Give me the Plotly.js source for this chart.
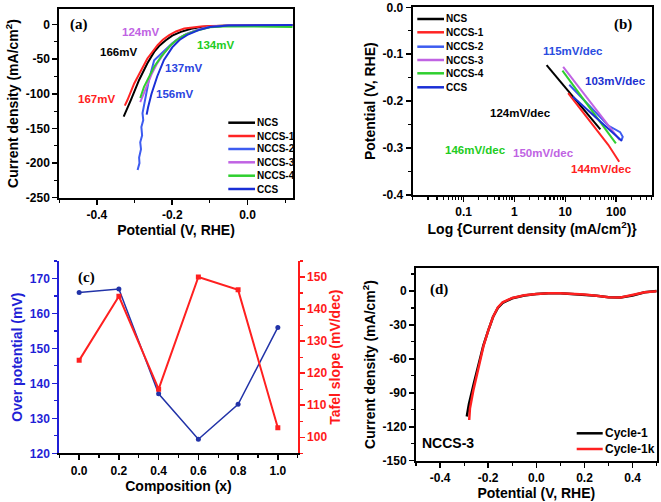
<!DOCTYPE html>
<html><head><meta charset="utf-8">
<script src="https://cdn.plot.ly/plotly-3.0.1.min.js"></script>
<style>html,body{margin:0;padding:0;background:#fff}#chart{width:661px;height:502px}</style>
</head><body><div id="chart"></div>
<script>
// ---------- Panel (a): LSV polarisation curves ----------
const ncsX   = [0.12, 0.0, -0.05, -0.1, -0.124, -0.15, -0.177, -0.2, -0.217, -0.235, -0.248, -0.266, -0.288, -0.31, -0.329];
const ncsY   = [-0.5, -0.8, -1.5, -2.5, -3.5, -6, -10.6, -16, -22.6, -31, -39.5, -56, -80, -109, -133];
const nccs1X = [0.12, 0.0, -0.05, -0.1, -0.124, -0.15, -0.168, -0.19, -0.208, -0.225, -0.239, -0.266, -0.275, -0.288, -0.301, -0.319, -0.326];
const nccs1Y = [-0.5, -0.8, -1.2, -2, -3, -4.5, -5.8, -10, -15.4, -22, -29.8, -49, -58.7, -73, -85, -109, -117];
const nccs2X = [0.12, 0.0, -0.05, -0.1, -0.13, -0.16, -0.18, -0.2, -0.22, -0.248, -0.262, -0.275, -0.279, -0.277, -0.282, -0.28, -0.285, -0.283, -0.288, -0.287, -0.292];
const nccs2Y = [-1, -1, -1.5, -3.5, -7, -13, -19, -27, -37, -51.5, -80, -114, -128, -138, -148, -160, -170, -180, -192, -200, -210];
const nccs3X = [0.12, 0.0, -0.05, -0.1, -0.13, -0.16, -0.18, -0.2, -0.22, -0.24, -0.255, -0.27, -0.285];
const nccs3Y = [-1, -1, -1.5, -3.5, -7, -13, -19, -28, -40, -56, -72, -92, -112];
const nccs4X = [0.12, 0.05, 0.0, -0.05, -0.1, -0.115, -0.14, -0.168, -0.19, -0.204, -0.23, -0.248, -0.262, -0.275, -0.285];
const nccs4Y = [-3.5, -3, -2.5, -2.5, -4, -5.8, -9.5, -15.4, -23, -29.8, -46.7, -61, -75, -90, -106];
const ccsX   = [0.12, 0.0, -0.05, -0.1, -0.13, -0.16, -0.18, -0.2, -0.222, -0.24, -0.255, -0.264, -0.268];
const ccsY   = [-0.5, -0.8, -1.5, -3.5, -8, -15, -22, -33, -51, -75, -100, -119, -130];

// ---------- Panel (b): Tafel plots ----------
const tNcsX   = [4.3, 10, 20, 49];
const tNcsY   = [-0.123, -0.171, -0.210, -0.260];
const tNccs1X = [11.4, 20, 40, 70, 115];
const tNccs1Y = [-0.183, -0.217, -0.259, -0.293, -0.329];
const tNccs2X = [12, 30, 70, 120, 135, 128];
const tNccs2Y = [-0.165, -0.210, -0.252, -0.266, -0.276, -0.283];
const tNccs3X = [9.1, 20, 50, 118];
const tNccs3Y = [-0.127, -0.175, -0.230, -0.283];
const tNccs4X = [8.8, 20, 50, 99];
const tNccs4Y = [-0.135, -0.1875, -0.246, -0.290];
const tCcsX   = [14, 30, 60, 100, 130];
const tCcsY   = [-0.190, -0.222, -0.252, -0.272, -0.285];

// ---------- Panel (c): composition dependence ----------
const composition   = [0.0, 0.2, 0.4, 0.6, 0.8, 1.0];
const overpotential = [166, 167, 137, 124, 134, 156];
const tafelSlope    = [124, 144, 115, 150, 146, 103];

// ---------- Panel (d): stability ----------
const cyc1X  = [-0.289, -0.28, -0.26, -0.24, -0.22, -0.2, -0.18, -0.16, -0.14, -0.1, -0.05, 0.0, 0.05, 0.1, 0.15, 0.2, 0.25, 0.3, 0.35, 0.4, 0.45, 0.5];
const cyc1Y  = [-111, -100, -82, -64, -48, -35, -23, -15, -10.5, -6.5, -4, -2.8, -2, -2, -2.7, -3.3, -4.3, -5.5, -5.8, -4, -1.2, 0];
const cyc1kX = [-0.279, -0.276, -0.262, -0.25, -0.235, -0.22, -0.2, -0.18, -0.16, -0.14, -0.1, -0.05, 0.0, 0.05, 0.1, 0.15, 0.2, 0.25, 0.3, 0.35, 0.4, 0.45, 0.5];
const cyc1kY = [-114, -104, -88, -76, -62, -49, -35, -23, -14.5, -10, -6.2, -3.8, -2.7, -2, -2, -2.5, -3.2, -4.3, -5.5, -5.8, -3.8, -1.2, -0.3];

// ---------- Tick labels ----------
const aXTicks = [-0.4, -0.2, 0.0];       const aXText = ['-0.4', '-0.2', '0.0'];
const aYTicks = [0, -50, -100, -150, -200, -250]; const aYText = ['0', '-50', '-100', '-150', '-200', '-250'];
const bXTicks = [0.1, 1, 10, 100];       const bXText = ['0.1', '1', '10', '100'];
const bYTicks = [0, -0.1, -0.2, -0.3, -0.4]; const bYText = ['0.0', '-0.1', '-0.2', '-0.3', '-0.4'];
const cXTicks = [0, 0.2, 0.4, 0.6, 0.8, 1.0]; const cXText = ['0.0', '0.2', '0.4', '0.6', '0.8', '1.0'];
const dXTicks = [-0.4, -0.2, 0.0, 0.2, 0.4]; const dXText = ['-0.4', '-0.2', '0.0', '0.2', '0.4'];
const dYTicks = [0, -30, -60, -90, -120, -150]; const dYText = ['0', '-30', '-60', '-90', '-120', '-150'];

// ---------- Series names and text labels ----------
const seriesNames = ['NCS', 'NCCS-1', 'NCCS-2', 'NCCS-3', 'NCCS-4', 'CCS'];
const cycleNames  = ['Cycle-1', 'Cycle-1k'];
const aLabels = ['124mV', '166mV', '134mV', '137mV', '167mV', '156mV'];
const bLabels = ['115mV/dec', '103mV/dec', '124mV/dec', '146mV/dec', '150mV/dec', '144mV/dec'];

const C = {ncs:'#000000', n1:'#ff2424', n2:'#3d5cf0', n3:'#c063e3', n4:'#2fcf2f', ccs:'#1a2fd6'};
const seriesColors = [C.ncs, C.n1, C.n2, C.n3, C.n4, C.ccs];
const cycleColors = ['#000000', '#ff2020'];
const W = 661, H = 502;
const px = v => v / W, py = v => 1 - v / H;
const FONT = 'Liberation Sans, Arial, sans-serif';
const SERIF = 'Liberation Serif, Times New Roman, serif';

function line(x, y, name, color, xa, ya, w) {
  return {x, y, name, type:'scatter', mode:'lines', xaxis:xa, yaxis:ya,
          line:{color, width:w || 2}, showlegend:false};
}

const aX = [ncsX, nccs1X, nccs2X, nccs3X, nccs4X, ccsX];
const aY = [ncsY, nccs1Y, nccs2Y, nccs3Y, nccs4Y, ccsY];
const bX = [tNcsX, tNccs1X, tNccs2X, tNccs3X, tNccs4X, tCcsX];
const bY = [tNcsY, tNccs1Y, tNccs2Y, tNccs3Y, tNccs4Y, tCcsY];

const data = [];
seriesNames.forEach((n, i) => data.push(line(aX[i], aY[i], n, seriesColors[i], 'x', 'y')));
seriesNames.forEach((n, i) => data.push(line(bX[i], bY[i], n, seriesColors[i], 'x2', 'y2')));
data.push({x:composition, y:overpotential, type:'scatter', mode:'lines+markers', xaxis:'x3', yaxis:'y3', showlegend:false,
   line:{color:'#2233a8', width:1.5}, marker:{color:'#2233a8', size:5, symbol:'circle'}});
data.push({x:composition, y:tafelSlope, type:'scatter', mode:'lines+markers', xaxis:'x3', yaxis:'y4', showlegend:false,
   line:{color:'#ff2020', width:2}, marker:{color:'#ff2020', size:5, symbol:'square'}});
data.push(line(cyc1X, cyc1Y, cycleNames[0], cycleColors[0], 'x4', 'y5', 2.5));
data.push(line(cyc1kX, cyc1kY, cycleNames[1], cycleColors[1], 'x4', 'y5', 2.5));

const base = {showline:true, linewidth:2, linecolor:'#000', ticks:'outside', ticklen:5, tickwidth:1.5,
  tickcolor:'#000', showgrid:false, zeroline:false, tickmode:'array',
  tickfont:{family:FONT, size:12, color:'#000', weight:'bold'}};
const ttl = (text, color, standoff) => ({text, standoff: standoff, font:{family:FONT, size:14, color:color || '#000', weight:'bold'}});
const minor = (dtick, color) => ({ticks:'outside', ticklen:3, tickwidth:1.2, tickcolor:color || '#000', dtick:dtick, showgrid:false});

const layout = {
  width:W, height:H, autosize:false, margin:{l:0, r:0, t:0, b:0},
  paper_bgcolor:'#fff', plot_bgcolor:'#fff', showlegend:false,
  font:{family:FONT, size:12, color:'#000', weight:'bold'},
  xaxis:Object.assign({}, base, {domain:[px(59.3), px(292.7)], range:[-0.5, 0.12], anchor:'y', mirror:true,
    tickvals:aXTicks, ticktext:aXText, minor:minor(0.1), title:ttl('Potential (V, RHE)', '#000', 4)}),
  yaxis:Object.assign({}, base, {domain:[py(197.7), py(9.3)], range:[-250, 22], anchor:'x', mirror:true,
    tickvals:aYTicks, ticktext:aYText, minor:minor(25), title:ttl('Current density (mA/cm<sup>2</sup>)', '#000', 4)}),

  xaxis2:Object.assign({}, base, {type:'log', domain:[px(412.7), px(651.7)], range:[-2, 2.7], anchor:'y2', mirror:true,
    tickvals:bXTicks, ticktext:bXText, minor:minor('D1'), title:ttl('Log {Current density (mA/cm<sup>2</sup>)}', '#000', 4)}),
  yaxis2:Object.assign({}, base, {domain:[py(195), py(7.3)], range:[-0.4, 0], anchor:'x2', mirror:true,
    tickvals:bYTicks, ticktext:bYText, minor:minor(0.05), title:ttl('Potential (V, RHE)', '#000', 4)}),

  xaxis3:Object.assign({}, base, {domain:[px(59.3), px(297.7)], range:[-0.1, 1.1], anchor:'y3',
    tickvals:cXTicks, ticktext:cXText, minor:minor(0.1), title:ttl('Composition (x)', '#000', 4)}),
  yaxis3:Object.assign({}, base, {domain:[py(453.3), py(261)], range:[120, 175], anchor:'x3',
    linecolor:'#1f1fd6', tickcolor:'#1f1fd6', tickmode:'linear', tick0:120, dtick:10,
    tickfont:{family:FONT, size:12, color:'#1f1fd6', weight:'bold'},
    minor:minor(5, '#1f1fd6'), title:ttl('Over potential (mV)', '#1f1fd6', 4)}),
  yaxis4:Object.assign({}, base, {domain:[py(453.3), py(261)], range:[95, 155], anchor:'x3', overlaying:'y3', side:'right',
    linecolor:'#ff1a1a', tickcolor:'#ff1a1a', tickmode:'linear', tick0:100, dtick:10,
    tickfont:{family:FONT, size:12, color:'#ff1a1a', weight:'bold'},
    minor:minor(5, '#ff1a1a'), title:ttl('Tafel slope (mV/dec)', '#ff1a1a', 4)}),

  xaxis4:Object.assign({}, base, {domain:[px(416), px(656.7)], range:[-0.5, 0.5], anchor:'y5', mirror:true,
    tickvals:dXTicks, ticktext:dXText, minor:minor(0.1), title:ttl('Potential (V, RHE)', '#000', 4)}),
  yaxis5:Object.assign({}, base, {domain:[py(460.7), py(268.3)], range:[-150, 20], anchor:'x4', mirror:true,
    tickvals:dYTicks, ticktext:dYText, minor:minor(15), title:ttl('Current density (mA/cm<sup>2</sup>)', '#000', 4)}),

  annotations:[], shapes:[]
};

function ann(text, x, y, color, size, family, xanchor) {
  layout.annotations.push({text, x:px(x), y:py(y), xref:'paper', yref:'paper', showarrow:false,
    xanchor:xanchor || 'center', yanchor:'middle', borderpad:0,
    font:{family:family || FONT, size:size || 11.5, color:color || '#000', weight:'bold'}});
}
// Manual legends (sample line + name)
function legend(names, colors, x0, x1, ys, size, lw) {
  names.forEach((n, i) => {
    layout.shapes.push({type:'line', xref:'paper', yref:'paper', x0:px(x0), x1:px(x1), y0:py(ys[i]), y1:py(ys[i]),
      line:{color:colors[i], width:lw}});
    ann(n, x1 + 1, ys[i], '#000', size, FONT, 'left');
  });
}
legend(seriesNames, seriesColors, 228.3, 255, [122.7, 136, 149, 162.3, 175.7, 189], 10, 2.5);
legend(seriesNames, seriesColors, 417.3, 444, [19, 32.3, 46.7, 60, 73.3, 87.3], 10, 2.5);
legend(cycleNames, cycleColors, 576.7, 602.7, [433.3, 449], 12, 2.5);

ann('(a)', 79.3, 25, '#000', 15, SERIF);
const aPos = [[140, 31.7], [118.3, 51.7], [215, 45], [183.3, 68.3], [96.7, 99], [175, 94.3]];
const aCol = [C.n3, '#000', '#22cc22', '#2a45e0', '#ff2020', '#2a45e0'];
aLabels.forEach((t, i) => ann(t, aPos[i][0], aPos[i][1], aCol[i]));

ann('(b)', 623.3, 25, '#000', 15, SERIF);
const bPos = [[573.3, 50.7], [615, 81], [520.7, 113.3], [475, 150], [543.3, 152.7], [601.7, 169.3]];
const bCol = ['#2a4de0', '#2030d0', '#000', '#22cc22', C.n3, '#ff2020'];
bLabels.forEach((t, i) => ann(t, bPos[i][0], bPos[i][1], bCol[i]));

ann('(c)', 86, 277.3, '#000', 15, SERIF);
ann('(d)', 439.3, 289.3, '#000', 15, SERIF);
ann('NCCS-3', 448.3, 443.3, '#000', 14);

Plotly.newPlot('chart', data, layout, {staticPlot:true, displayModeBar:false});
</script>
</body></html>
